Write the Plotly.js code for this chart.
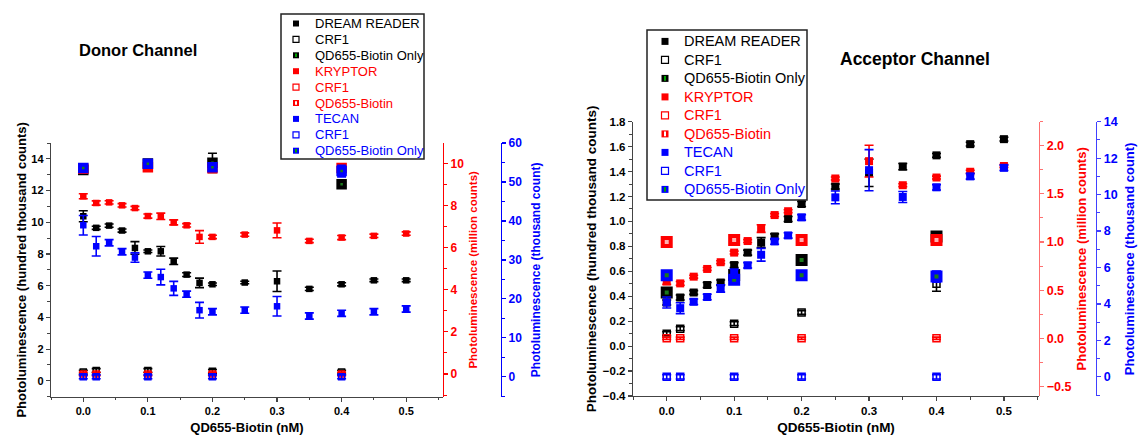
<!DOCTYPE html>
<html><head><meta charset="utf-8">
<script src="https://cdn.plot.ly/plotly-3.0.1.min.js"></script>
<style>html,body{margin:0;padding:0;background:#fff}</style>
</head><body><div id="chart" style="width:1141px;height:439px"></div>
<script>
// ---------------- DATA ----------------
// Donor channel
const donorX = [0,0.02,0.04,0.06,0.08,0.1,0.12,0.14,0.16,0.18,0.2,0.25,0.3,0.35,0.4,0.45,0.5];
const donorDream = [10.38,9.65,9.79,9.48,8.38,8.17,8.17,7.54,6.70,6.18,6.09,6.20,6.28,5.80,6.09,6.34,6.34];
const donorDreamErr = [0.35,0.1,0.1,0.1,0.4,0.08,0.3,0.2,0.12,0.3,0.08,0.08,0.65,0.1,0.1,0.08,0.08];
const donorKryptor = [8.44,8.12,8.15,8.01,7.88,7.50,7.49,7.20,7.06,6.51,6.51,6.62,6.82,6.32,6.48,6.56,6.67];
const donorKryptorErr = [0.12,0.1,0.08,0.08,0.08,0.1,0.15,0.12,0.08,0.3,0.08,0.08,0.35,0.08,0.1,0.08,0.08];
const donorTecan = [38.9,33.5,34.4,32.1,30.6,26.1,25.6,22.7,21.2,17.1,16.7,17.1,18.1,15.6,16.3,16.7,17.4];
const donorTecanErr = [2.5,2.5,0.8,0.8,1.2,0.8,2.0,1.8,0.8,2.0,0.8,0.8,2.5,0.8,0.8,0.8,0.8];
const donorCtrlX = [0,0.02,0.1,0.2,0.4];
const donorCrfBlack = [0.55,0.65,0.65,0.60,0.55];
const donorCrfRed = [0,0,0,0,0];
const donorCrfBlue = [0,0,0,0,0];
const donorQdX = [0,0.1,0.2,0.4];
const donorQdBlack = [13.3,13.7,13.75,12.4];
const donorQdBlackErr = [0.15,0.15,0.6,0.12];
const donorQdRed = [9.75,9.82,9.77,9.78];
const donorQdBlue = [53.6,54.7,53.8,52.8];
const donorQdBlueErr = [0.8,0.8,0.8,1.5];

// Acceptor channel
const accX = [0,0.02,0.04,0.06,0.08,0.1,0.12,0.14,0.16,0.18,0.2,0.25,0.3,0.35,0.4,0.45,0.5];
const accDream = [0.35,0.39,0.43,0.49,0.51,0.65,0.75,0.83,0.88,1.02,1.14,1.28,1.39,1.44,1.53,1.62,1.66];
const accDreamErr = [0.02,0.02,0.015,0.02,0.02,0.02,0.02,0.04,0.02,0.02,0.02,0.02,0.11,0.025,0.015,0.015,0.015];
const accKryptor = [0.59,0.57,0.64,0.72,0.79,0.89,1.01,1.14,1.28,1.32,1.49,1.66,1.84,1.59,1.67,1.73,1.79];
const accKryptorErr = [0.03,0.02,0.015,0.015,0.015,0.015,0.015,0.04,0.015,0.015,0.015,0.015,0.165,0.015,0.015,0.015,0.015];
const accTecan = [4.08,3.77,4.12,4.38,4.85,5.66,6.12,6.70,7.43,7.76,8.75,9.85,11.34,9.87,10.40,11.00,11.47];
const accTecanErr = [0.3,0.3,0.15,0.15,0.2,0.25,0.15,0.35,0.15,0.15,0.15,0.35,1.13,0.3,0.15,0.15,0.15];
const accCtrlX = [0,0.02,0.1,0.2,0.4];
const accCrfBlack = [0.10,0.14,0.18,0.27,0.50];
const accCrfBlackErr = [0.015,0.015,0.015,0.015,0.06];
const accCrfRed = [0,0,0,0,0];
const accCrfBlue = [0,0,0,0,0];
const accQdX = [0,0.1,0.2,0.4];
const accQdBlack = [0.43,0.57,0.69,0.88];
const accQdRed = [1.00,1.02,1.02,1.02];
const accQdBlue = [5.57,5.33,5.57,5.50];
const accQdBlueErr = [0.2,0.2,0.15,0.3];

const legendNames = ['DREAM READER','CRF1','QD655-Biotin Only','KRYPTOR','CRF1','QD655-Biotin','TECAN','CRF1','QD655-Biotin Only'];
const legendColors = ['#000000','#000000','#000000','#ff0000','#ff0000','#ff0000','#0000ff','#0000ff','#0000ff'];
const legendStyles = ['filled','open','green','filled','open','white','filled','open','green'];

// ---------------- HELPERS ----------------
const W = 1141, H = 439;
const fx = p => p / W, fy = p => 1 - p / H;
const FONT = 'Arial, "Liberation Sans", sans-serif';
const RED = '#ff0000', BLUE = '#0000ff', BLACK = '#000000';

function mk(x, y, err, idx, xa, ya, size) {
  const color = legendColors[idx], style = legendStyles[idx];
  let marker;
  if (style === 'filled') marker = {symbol:'square', size:size, color:color, line:{width:0}};
  else if (style === 'open') marker = {symbol:'square-open', size:size, color:color, line:{width:1.5, color:color}};
  else marker = {symbol:'square', size:size, color:(style==='green' ? '#1a7a1a' : '#ffb0b0'), line:{width:4, color:color}};
  const t = {x:x, y:y, type:'scatter', mode:'markers', name:legendNames[idx], xaxis:xa, yaxis:ya,
    marker:marker, showlegend:false, cliponaxis:false};
  const e = err || y.map(() => 0);
  t.error_y = {type:'data', array:e, visible:true, color:color, thickness:1.6, width:4.5};
  return t;
}
const smallErr = (arr, v) => arr.map(() => v);

const data = [
  // Donor
  mk(donorCtrlX, donorCrfBlack, smallErr(donorCtrlX,0.12), 1, 'x', 'y', 6),
  mk(donorQdX, donorQdBlack, donorQdBlackErr, 2, 'x', 'y', 6.5),
  mk(donorX, donorDream, donorDreamErr, 0, 'x', 'y', 6.5),
  mk(donorCtrlX, donorCrfRed, smallErr(donorCtrlX,0.08), 4, 'x', 'y2', 6),
  mk(donorQdX, donorQdRed, smallErr(donorQdX,0.1), 5, 'x', 'y2', 6.5),
  mk(donorX, donorKryptor, donorKryptorErr, 3, 'x', 'y2', 6.5),
  mk(donorCtrlX, donorCrfBlue, smallErr(donorCtrlX,0.5), 7, 'x', 'y3', 6),
  mk(donorQdX, donorQdBlue, donorQdBlueErr, 8, 'x', 'y3', 6.5),
  mk(donorX, donorTecan, donorTecanErr, 6, 'x', 'y3', 6.5),
  // Acceptor
  mk(accCtrlX, accCrfBlack, accCrfBlackErr, 1, 'x2', 'y4', 7),
  mk(accQdX, accQdBlack, smallErr(accQdX,0.02), 2, 'x2', 'y4', 8),
  mk(accX, accDream, accDreamErr, 0, 'x2', 'y4', 8),
  mk(accCtrlX, accCrfRed, smallErr(accCtrlX,0.012), 4, 'x2', 'y5', 7),
  mk(accQdX, accQdRed, smallErr(accQdX,0.015), 5, 'x2', 'y5', 8),
  mk(accX, accKryptor, accKryptorErr, 3, 'x2', 'y5', 8),
  mk(accCtrlX, accCrfBlue, smallErr(accCtrlX,0.12), 7, 'x2', 'y6', 7),
  mk(accQdX, accQdBlue, accQdBlueErr, 8, 'x2', 'y6', 8),
  mk(accX, accTecan, accTecanErr, 6, 'x2', 'y6', 8)
];

function axis(o) {
  const c = o.color || BLACK;
  const lc = o.linecolor || '#444';
  const a = {
    showgrid:false, zeroline:false, showline:true, linecolor:lc, linewidth:1.2,
    ticks:'outside', ticklen:4, tickwidth:1.2, tickcolor:lc,
    tickfont:{family:FONT, size:o.tickSize || 11, color:c, weight:'bold'},
    minor:{dtick:o.minor, ticks:'outside', ticklen:2.5, tickwidth:1, tickcolor:lc},
    dtick:o.dtick, tick0:0, range:o.range, fixedrange:true
  };
  if (o.fmt) a.tickformat = o.fmt;
  if (o.title) a.title = {text:o.title, font:{family:FONT, size:o.titleSize || 13, color:c, weight:'bold'}, standoff:o.standoff};
  return a;
}

const layout = {
  width:W, height:H, margin:{l:0, r:0, t:0, b:0},
  paper_bgcolor:'#ffffff', plot_bgcolor:'rgba(0,0,0,0)', showlegend:false,
  font:{family:FONT},
  xaxis:Object.assign(axis({range:[-0.05,0.557], dtick:0.1, minor:0.05, fmt:'.1f', title:'QD655-Biotin (nM)', titleSize:13, standoff:6}),
    {domain:[fx(51), fx(443)], anchor:'y'}),
  yaxis:Object.assign(axis({range:[-1,15], dtick:2, minor:1, title:'Photoluminescence (hundred thousand counts)', titleSize:13, standoff:1}),
    {domain:[fy(396.7), fy(143)], anchor:'x'}),
  yaxis2:Object.assign(axis({range:[-1.08,10.97], dtick:2, minor:1, color:RED, linecolor:RED, tickSize:12, title:'Photoluminescence (million counts)', titleSize:11.5, standoff:5}),
    {overlaying:'y', anchor:'free', position:fx(443), side:'right'}),
  yaxis3:Object.assign(axis({range:[-5.1,60], dtick:10, minor:5, color:BLUE, linecolor:BLUE, tickSize:12, title:'Photoluminescence (thousand count)', titleSize:12, standoff:10}),
    {overlaying:'y', anchor:'free', position:fx(501), side:'right'}),
  xaxis2:Object.assign(axis({range:[-0.05,0.552], dtick:0.1, minor:0.05, fmt:'.1f', tickSize:11.5, title:'QD655-Biotin (nM)', titleSize:13.5, standoff:6}),
    {domain:[fx(633), fx(1039)], anchor:'y4'}),
  yaxis4:Object.assign(axis({range:[-0.4,1.8], dtick:0.2, minor:0.1, fmt:'.1f', tickSize:11.5, title:'Photoluminescence (hundred thousand counts)', titleSize:13.5, standoff:3}),
    {domain:[fy(396), fy(121.7)], anchor:'x2'}),
  yaxis5:Object.assign(axis({range:[-0.6,2.25], dtick:0.5, minor:0.25, fmt:'.1f', color:RED, linecolor:'#ff7070', tickSize:12.5, title:'Photoluminescence (million counts)', titleSize:13, standoff:6}),
    {overlaying:'y4', anchor:'free', position:fx(1039), side:'right'}),
  yaxis6:Object.assign(axis({range:[-1.05,14], dtick:2, minor:1, color:BLUE, linecolor:'#4040ff', tickSize:12.5, title:'Photoluminescence (thousand count)', titleSize:13, standoff:8}),
    {overlaying:'y4', anchor:'free', position:fx(1096), side:'right'}),
  shapes:[], annotations:[]
};

// Panel titles
layout.annotations.push({text:'<b>Donor Channel</b>', xref:'paper', yref:'paper', x:fx(138), y:fy(50), xanchor:'center', yanchor:'middle', showarrow:false, font:{family:FONT, size:16.5, color:BLACK}});
layout.annotations.push({text:'<b>Acceptor Channel</b>', xref:'paper', yref:'paper', x:fx(915), y:fy(59), xanchor:'center', yanchor:'middle', showarrow:false, font:{family:FONT, size:17.5, color:BLACK}});

// Legend boxes (built from the legend arrays)
function drawLegend(box, firstY, step, markX, textX, msize, fsize) {
  layout.shapes.push({type:'rect', xref:'paper', yref:'paper', x0:fx(box[0]), x1:fx(box[2]), y0:fy(box[1]), y1:fy(box[3]),
    line:{color:'#222', width:1.5}, fillcolor:'#ffffff', layer:'above'});
  legendNames.forEach((nm, i) => {
    const cy = firstY + i * step, c = legendColors[i], st = legendStyles[i], h = msize / 2;
    const rect = {type:'rect', xref:'paper', yref:'paper', x0:fx(markX - h), x1:fx(markX + h), y0:fy(cy + h), y1:fy(cy - h), layer:'above'};
    if (st === 'filled') Object.assign(rect, {fillcolor:c, line:{width:0}});
    else if (st === 'open') Object.assign(rect, {fillcolor:'rgba(0,0,0,0)', line:{color:c, width:1.2}});
    else Object.assign(rect, {fillcolor:c, line:{width:0}});
    layout.shapes.push(rect);
    if (st === 'green' || st === 'white') {
      layout.shapes.push({type:'rect', xref:'paper', yref:'paper', x0:fx(markX - 1), x1:fx(markX + 1), y0:fy(cy + h - 1.2), y1:fy(cy - h + 1.2),
        fillcolor:(st === 'green' ? '#00a000' : '#ffffff'), line:{width:0}, layer:'above'});
    }
    layout.annotations.push({text:nm, xref:'paper', yref:'paper', x:fx(textX), y:fy(cy), xanchor:'left', yanchor:'middle', showarrow:false,
      font:{family:FONT, size:fsize, color:c}});
  });
}
drawLegend([281, 14, 424, 159], 23.5, 15.9, 296, 313, 6, 13);
drawLegend([647, 30, 807, 200], 41.4, 18.5, 665, 682, 7, 14.5);

Plotly.newPlot('chart', data, layout, {staticPlot:true, displayModeBar:false});
</script>
</body></html>
